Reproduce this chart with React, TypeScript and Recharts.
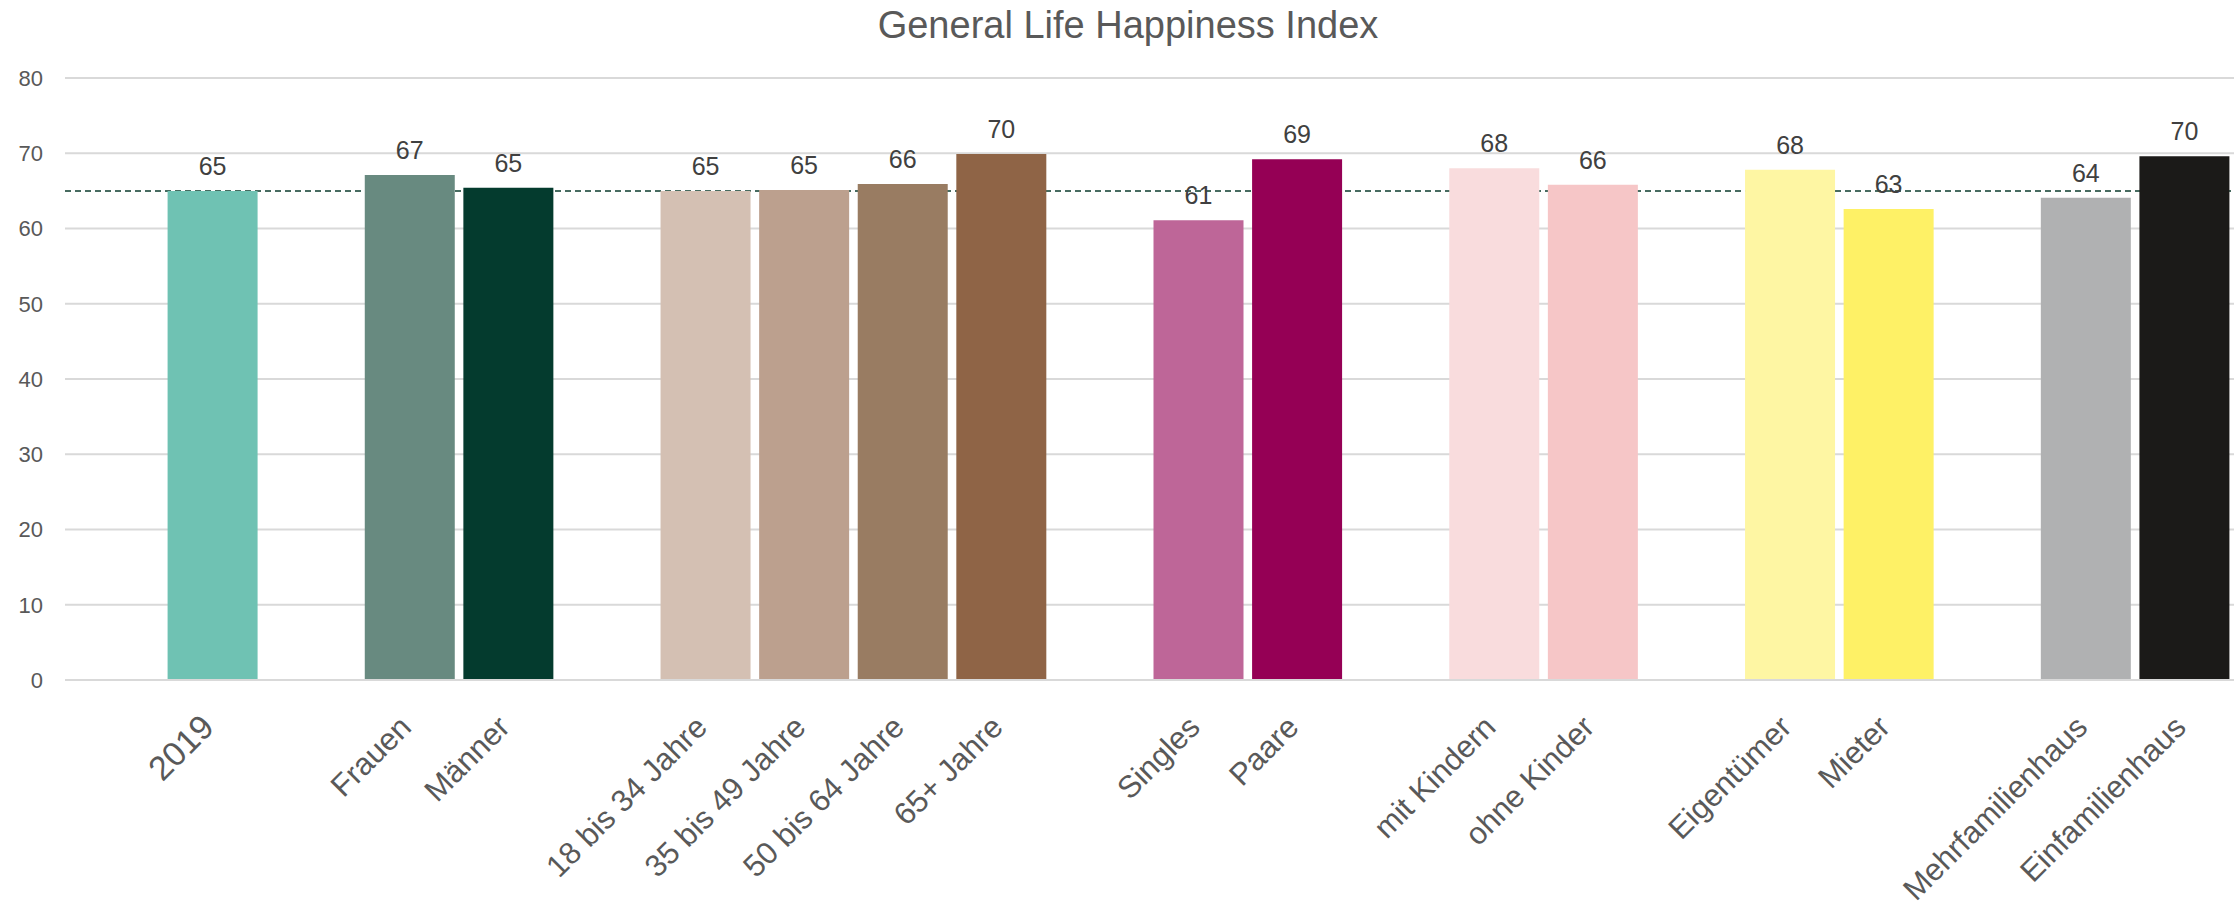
import React from "react";
import {
  BarChart,
  Bar,
  Cell,
  XAxis,
  YAxis,
  CartesianGrid,
  ReferenceLine,
  LabelList,
} from "recharts";

const categories = [
  "2019",
  "Frauen",
  "Männer",
  "18 bis 34 Jahre",
  "35 bis 49 Jahre",
  "50 bis 64 Jahre",
  "65+ Jahre",
  "Singles",
  "Paare",
  "mit Kindern",
  "ohne Kinder",
  "Eigentümer",
  "Mieter",
  "Mehrfamilienhaus",
  "Einfamilienhaus",
];
// which group each category belongs to (an empty slot goes between groups)
const groupIds = [0, 1, 1, 2, 2, 2, 2, 3, 3, 4, 4, 5, 5, 6, 6];
const values = [
  65.0, 67.1, 65.4, 65.0, 65.1, 65.9, 69.9, 61.1, 69.2, 68.0, 65.8, 67.8, 62.6,
  64.1, 69.6,
];
const colors = [
  "#6fc2b3",
  "#688a80",
  "#043b2e",
  "#d4c0b3",
  "#bca08e",
  "#997c62",
  "#8f6446",
  "#be6698",
  "#950055",
  "#f9dcdd",
  "#f6c6c7",
  "#fef6a3",
  "#fef166",
  "#b0b1b2",
  "#1b1a18",
];
const benchmark = 65.0;
const yTicks = [0, 10, 20, 30, 40, 50, 60, 70, 80];

type Row = { name: string; value: number | null; color: string };

const rows: Row[] = [];
categories.forEach((name, i) => {
  if (i === 0 || groupIds[i] !== groupIds[i - 1]) {
    rows.push({ name: "", value: null, color: "transparent" });
  }
  rows.push({ name, value: values[i], color: colors[i] });
});

const FONT = "'Liberation Sans', Arial, sans-serif";

function XTick(props: any) {
  const { x, y, payload } = props;
  if (!payload || !payload.value) return null;
  const tx = x + 3;
  const ty = y + 49;
  return (
    <text
      x={tx}
      y={ty}
      transform={`rotate(-45, ${tx}, ${ty})`}
      textAnchor="end"
      fill="#595959"
      fontSize={payload.value === "2019" ? 34 : 31}
      fontFamily={FONT}
    >
      {payload.value}
    </text>
  );
}

export default function App() {
  return (
    <div
      style={{
        position: "absolute",
        left: 0,
        top: 0,
        width: 2236,
        height: 917,
        background: "#ffffff",
        fontFamily: FONT,
      }}
    >
      <div
        style={{
          position: "absolute",
          top: 6,
          left: 0,
          width: 2216,
          paddingLeft: 20,
          textAlign: "center",
          fontSize: 38,
          lineHeight: "38px",
          color: "#595959",
          zIndex: 2,
        }}
      >
        General Life Happiness Index
      </div>
      <BarChart
        width={2236}
        height={917}
        data={rows}
        margin={{ top: 78, right: 2, bottom: 0, left: 0 }}
        barSize={90}
      >
        <CartesianGrid
          vertical={false}
          stroke="#d9d9d9"
          strokeWidth={2}
        />
        <YAxis
          domain={[0, 80]}
          ticks={yTicks}
          width={65}
          axisLine={false}
          tickLine={false}
          tickSize={0}
          tickMargin={22}
          tick={{ fill: "#595959", fontSize: 22, fontFamily: FONT }}
        />
        <XAxis
          dataKey="name"
          height={237}
          interval={0}
          axisLine={{ stroke: "#d9d9d9", strokeWidth: 2 }}
          tickLine={false}
          tickSize={0}
          tickMargin={0}
          tick={<XTick />}
        />
        <ReferenceLine
          y={benchmark}
          stroke="#0b3b2c"
          strokeWidth={1.5}
          strokeDasharray="6 4"
          zIndex={0}
        />
        <Bar dataKey="value" isAnimationActive={false}>
          {rows.map((r, i) => (
            <Cell key={i} fill={r.color} />
          ))}
          <LabelList
            dataKey="value"
            position="top"
            offset={16}
            fill="#404040"
            fontSize={25}
            fontFamily={FONT}
            formatter={(v: any) =>
              v === null || v === undefined ? "" : Math.round(v)
            }
          />
        </Bar>
      </BarChart>
    </div>
  );
}
